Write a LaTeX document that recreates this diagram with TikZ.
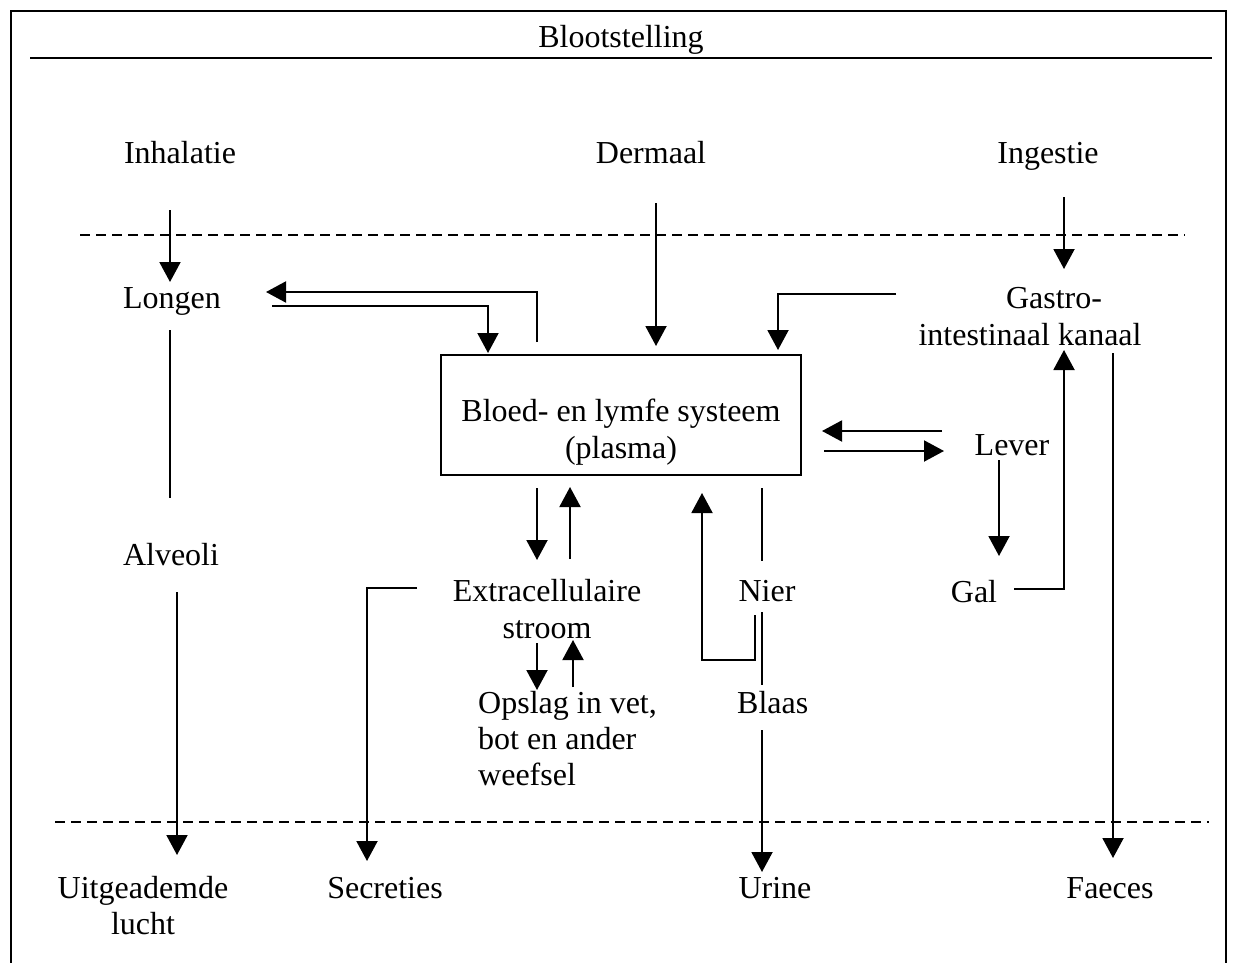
\documentclass[tikz,border=0pt]{standalone}
\usepackage{fontspec}
\setmainfont{Liberation Serif}
\usetikzlibrary{arrows.meta}
\begin{document}
\begin{tikzpicture}[x=1pt,y=-1pt,
  lbl/.style={inner sep=0pt,anchor=base,font=\fontsize{32}{37}\selectfont},
  ln/.style={line width=2pt},
  arr/.style={line width=2pt,-{Triangle[length=20pt,width=21pt]}},
  dsh/.style={line width=1.8pt,dash pattern=on 10pt off 6pt}]
\useasboundingbox (0,0) rectangle (1236,963);
% frame
\draw[line width=2pt] (11,963) -- (11,11) -- (1226,11) -- (1226,963);
\node[lbl] (title) at (621,48) {Blootstelling};
\draw[line width=2.4pt] (30,58) -- (1212,58);
\draw[dsh] (80,235) -- (1185,235);
\draw[dsh] (55,822) -- (1209,822);
% nodes
\node[lbl] (inh) at (180,163) {Inhalatie};
\node[lbl] (derm) at (651,163) {Dermaal};
\node[lbl] (ing) at (1048,163) {Ingestie};
\node[lbl] (long) at (172,308) {Longen};
\node[lbl] (gas1) at (1054,308) {Gastro-};
\node[lbl] (gas2) at (1030,345) {intestinaal kanaal};
\draw[line width=2pt] (441,355) rectangle (801,475);
\node[lbl] (box1) at (621,421) {Bloed- en lymfe systeem};
\node[lbl] (box2) at (621,458) {(plasma)};
\node[lbl] (lever) at (1012,455) {Lever};
\node[lbl] (alv) at (171,565) {Alveoli};
\node[lbl] (extra1) at (547,601) {Extracellulaire};
\node[lbl] (extra2) at (547,638) {stroom};
\node[lbl] (nier) at (767,601) {Nier};
\node[lbl] (gal) at (974,602) {Gal};
\node[lbl,anchor=base west] (ops1) at (478,713) {Opslag in vet,};
\node[lbl,anchor=base west] (ops2) at (478,749) {bot en ander};
\node[lbl,anchor=base west] (ops3) at (478,785) {weefsel};
\node[lbl,anchor=base west] (blaas) at (737,713) {Blaas};
\node[lbl] (uit1) at (143,898) {Uitgeademde};
\node[lbl] (uit2) at (143,934) {lucht};
\node[lbl] (secr) at (385,898) {Secreties};
\node[lbl] (urine) at (775,898) {Urine};
\node[lbl] (faec) at (1110,898) {Faeces};
% connectors
\draw[arr] (170,210) -- (170,282);
\draw[arr] (656,203) -- (656,346);
\draw[arr] (1064,197) -- (1064,269);
\draw[arr] (537,342) -- (537,292) -- (266,292);
\draw[arr] (272,306) -- (488,306) -- (488,353);
\draw[arr] (896,294) -- (778,294) -- (778,350);
\draw[arr] (942,431) -- (822,431);
\draw[arr] (824,451) -- (944,451);
\draw[arr] (999,460) -- (999,556);
\draw[arr] (1014,589) -- (1064,589) -- (1064,350);
\draw[arr] (1113,353) -- (1113,858);
\draw[ln] (170,330) -- (170,498);
\draw[arr] (177,592) -- (177,855);
\draw[arr] (537,488) -- (537,560);
\draw[arr] (570,559) -- (570,487);
\draw[arr] (537,643) -- (537,690);
\draw[arr] (573,687) -- (573,640);
\draw[ln] (762,488) -- (762,561);
\draw[ln] (762,612) -- (762,685);
\draw[arr] (755,615) -- (755,660) -- (702,660) -- (702,493);
\draw[arr] (762,730) -- (762,872);
\draw[arr] (417,588) -- (367,588) -- (367,861);
\end{tikzpicture}
\end{document}
